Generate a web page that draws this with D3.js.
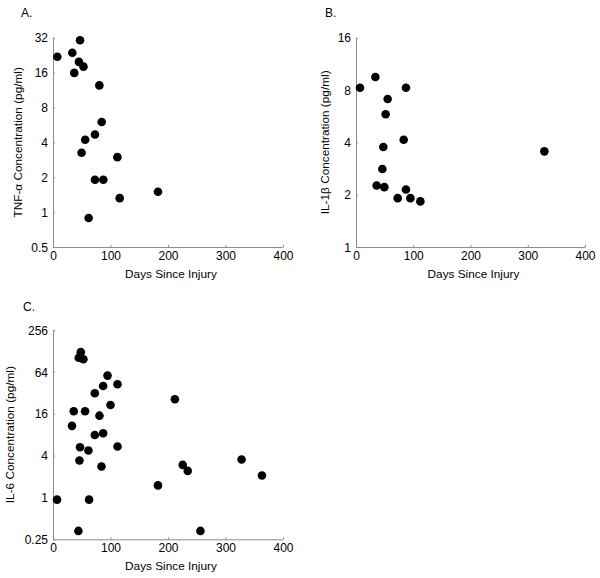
<!DOCTYPE html>
<html><head><meta charset="utf-8">
<script src="https://cdn.jsdelivr.net/npm/d3@7"></script>
<style>body{margin:0;background:#fff}svg{display:block}text{font-family:Arial,"Liberation Sans",sans-serif;fill:#000}</style>
</head><body><svg id="c" width="600" height="578"></svg>
<script>
const xTicks = [0, 100, 200, 300, 400];

const tnfDays = [7.5, 33.6, 47, 45, 53, 37, 80.6, 84.7, 73, 56, 49.7, 112, 73, 87.5, 182.6, 116, 62];
const tnfVals = [21.9, 23.7, 30.4, 19.8, 18.0, 15.9, 12.4, 6.0, 4.68, 4.21, 3.25, 2.98, 1.90, 1.90, 1.50, 1.32, 0.89];
const tnfTicks = [0.5, 1, 2, 4, 8, 16, 32];

const il1Days = [7, 33.8, 87.3, 55.3, 51.8, 83.3, 47.7, 329, 46, 36.1, 49.5, 87.3, 72.8, 95, 112.4];
const il1Vals = [8.25, 9.5, 8.25, 7.1, 5.8, 4.14, 3.76, 3.55, 2.81, 2.26, 2.21, 2.14, 1.91, 1.91, 1.83];
const il1Ticks = [1, 2, 4, 8, 16];

const il6Days = [48.3, 44.8, 52.9, 94.8, 87.2, 112.2, 72.7, 212, 100, 36, 55.8, 80.8, 33, 72.7, 87.2, 47, 112.2, 61.6, 46, 84.3, 225.6, 234.3, 328, 363.4, 182.6, 7, 62.8, 44.2, 256.4];
const il6Vals = [123, 102, 97, 56.5, 40, 42.4, 31.5, 25.8, 21.4, 17.4, 17.4, 15.0, 10.7, 7.9, 8.4, 5.28, 5.4, 4.73, 3.40, 2.79, 2.94, 2.41, 3.51, 2.07, 1.49, 0.93, 0.93, 0.33, 0.33];
const il6Ticks = [0.25, 1, 4, 16, 64, 256];

const svg = d3.select("#c");

function panel(o) {
  const g = svg.append("g");
  const x = d3.scaleLinear().domain([0, 400]).range([o.x0, o.x1]);
  const y = d3.scaleLog().base(2).domain([o.ticks[0], o.ticks[o.ticks.length-1]]).range([o.y1, o.y0]);
  const fmt = v => String(v);
  const ya = g.append("g").attr("transform", `translate(${o.x0},0)`)
    .call(d3.axisLeft(y).tickValues(o.ticks).tickFormat(fmt).tickSizeInner(-2).tickSizeOuter(0).tickPadding(5));
  const xa = g.append("g").attr("transform", `translate(0,${o.y1})`)
    .call(d3.axisBottom(x).tickValues(xTicks).tickSizeInner(-2).tickSizeOuter(0).tickPadding(5));
  [ya, xa].forEach(a => {
    a.select(".domain").attr("stroke", "#8c8c8c");
    a.selectAll(".tick line").attr("stroke", "#8c8c8c");
    a.selectAll(".tick text").attr("font-size", 12).attr("fill", "#000");
  });
  ya.selectAll(".tick text").attr("dy", "0.35em");
  xa.selectAll(".tick text").attr("dy", "0.75em").attr("y", 4);
  g.selectAll("circle").data(o.days).join("circle")
    .attr("cx", d => x(d)).attr("cy", (d, i) => y(o.vals[i])).attr("r", 4.3).attr("fill", "#000");
  g.append("text").attr("x", (o.x0 + o.x1) / 2 + 3).attr("y", o.y1 + 31).attr("text-anchor", "middle")
    .attr("font-size", 11.8).text("Days Since Injury");
  g.append("text").attr("transform", `translate(${o.ylx},${(o.y0 + o.y1) / 2}) rotate(-90)`)
    .attr("text-anchor", "middle").attr("font-size", 11.8).text(o.ylabel);
  g.append("text").attr("x", o.lx).attr("y", o.ly).attr("font-size", 12).text(o.letter);
}

panel({x0: 53, x1: 283, y0: 37.7, y1: 247, ticks: tnfTicks, days: tnfDays, vals: tnfVals,
  ylabel: "TNF-\u03b1 Concentration (pg/ml)", ylx: 22, letter: "A.", lx: 21, ly: 17});
panel({x0: 356, x1: 585, y0: 37.7, y1: 247, ticks: il1Ticks, days: il1Days, vals: il1Vals,
  ylabel: "IL-1\u03b2 Concentration (pg/ml)", ylx: 329, letter: "B.", lx: 325, ly: 17});
panel({x0: 53, x1: 283, y0: 330, y1: 539.3, ticks: il6Ticks, days: il6Days, vals: il6Vals,
  ylabel: "IL-6 Concentration (pg/ml)", ylx: 14, letter: "C.", lx: 23, ly: 311});
</script></body></html>
